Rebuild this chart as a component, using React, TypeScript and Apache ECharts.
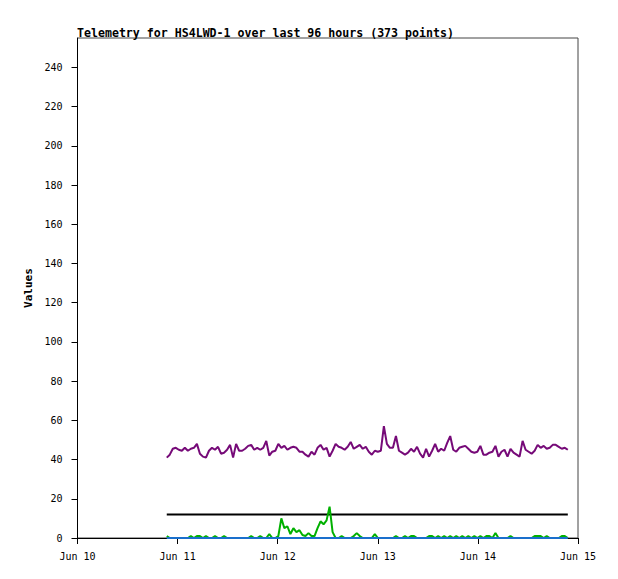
// Telemetria de uma estacao APRS nas ultimas 96 horas: quatro canais sobre um eixo de
// horas contadas a partir de 10 de junho 00:00.
import { useEffect, useRef } from 'react'
import * as echarts from 'echarts'

const DAY_LABELS = ['Jun 10', 'Jun 11', 'Jun 12', 'Jun 13', 'Jun 14', 'Jun 15']
const Y_TICKS = [0, 20, 40, 60, 80, 100, 120, 140, 160, 180, 200, 220, 240]

// primeira leitura (horas desde Jun 10 00:00) e intervalo entre leituras amostradas
const START_HOUR = 21.4
const STEP_HOURS = 0.723

const PURPLE = [
  41, 42.5, 45.5, 46, 45, 44.5, 46, 44.5, 45.5, 46, 48, 43, 41.5, 41, 44.5, 46, 45, 46.5, 43, 43.5,
  45, 47.5, 41, 48, 44.5, 44.5, 45.5, 47, 47.5, 45, 46, 45, 46, 49.5, 42, 44, 44.5, 48, 46, 47,
  45, 46, 46.5, 46, 44,
  44, 42.5, 41.5, 44, 42.5, 46, 47.5, 45, 46, 41.5, 44.5, 48, 46.5, 46, 45, 46.5, 49, 45.5, 46.5, 47.5,
  45.5, 46.5, 44, 42.5, 44.5, 44, 44.5, 57, 48, 46, 46, 52, 44.5, 43.5, 42.5, 43.5, 45.5, 44, 46.5, 43,
  41, 45.5, 41.5, 44.5, 48,
  44, 45.5, 44.5, 48.5, 52, 45, 44, 46, 46.5, 47, 45.5, 44, 43.5, 44, 47, 42.5, 42.5, 43.5, 44, 47,
  41.5, 44, 45, 41.5, 45.5, 43.5, 42.5, 41.5, 49.5, 45, 44, 43, 44.5, 47.5, 46, 47, 45.5, 46, 47.5, 47.5,
  46.5, 45.5, 46, 45,
]

const GREEN = [
  1, 0, 0, 0, 0, 0, 0, 0, 1, 0,
  1, 1, 0, 1, 0, 0, 1, 0, 0, 1,
  0, 0, 0, 0, 0, 0, 0, 0, 1, 0,
  0, 1, 0, 0, 2, 0, 0, 1, 10, 5,
  6, 2, 5, 3, 4, 1.5, 1, 2.5, 1, 1,
  5, 8.5, 7, 9, 16, 3, 0, 0, 1, 0,
  0, 0, 1, 2.5, 1, 0, 0, 0, 0, 2,
  0, 0, 0, 0, 0, 0, 1, 0, 0, 1,
  0, 1, 1, 0, 0, 0, 0, 1, 1, 0,
  1, 0, 1, 0, 1, 0, 1, 0, 1, 0,
  1, 0, 1, 0, 1, 0, 1, 1, 0, 2.5,
  0, 0, 0, 0, 1, 0, 0, 0, 0, 0,
  0, 0, 1, 1, 1, 0, 1, 0, 0, 0,
  0, 1, 1, 0,
]

// canais que ficaram parados o periodo inteiro
const BLACK_LEVEL = 12
const BLUE_LEVEL = 0

const HOURS = PURPLE.map((_, i) => START_HOUR + i * STEP_HOURS)

const fonteMono = '"DejaVu Sans Mono", "Liberation Mono", monospace'

export default function App() {
  const containerRef = useRef<HTMLDivElement>(null)

  useEffect(() => {
    if (!containerRef.current) return
    const chart = echarts.init(containerRef.current, undefined, { renderer: 'svg' })

    // sem clip: o canal em zero fica em cima do eixo, e cortado pela grade sumiria pela metade
    const linha = (name: string, color: string, values: number[]) => ({
      name,
      type: 'line' as const,
      data: values.map((v, i) => [HOURS[i], v]),
      symbol: 'none',
      clip: false,
      z: 5,
      lineStyle: { color, width: 2 },
      itemStyle: { color },
    })

    chart.setOption({
      animation: false,
      backgroundColor: '#fff',
      textStyle: { fontFamily: fonteMono },
      title: {
        text: 'Telemetry for HS4LWD-1 over last 96 hours (373 points)',
        left: 72,
        top: 22,
        textStyle: { fontFamily: fonteMono, fontSize: 11.6, fontWeight: 'bold', color: '#000' },
      },
      grid: {
        left: 77.5,
        right: 40,
        top: 38,
        bottom: 41,
        show: true,
        borderColor: '#444',
        borderWidth: 1,
        backgroundColor: 'transparent',
      },
      xAxis: {
        type: 'value',
        min: 0,
        max: 120,
        interval: 24,
        axisLine: { lineStyle: { color: '#000', width: 1 } },
        axisTick: { show: true, length: 6, inside: false, lineStyle: { color: '#000' } },
        splitLine: { show: false },
        axisLabel: {
          margin: 13,
          color: '#000',
          fontFamily: fonteMono,
          fontSize: 10,
          formatter: (v: number) => DAY_LABELS[Math.round(v / 24)] ?? '',
        },
      },
      yAxis: {
        type: 'value',
        min: 0,
        max: 255,
        name: 'Values',
        nameLocation: 'middle',
        nameRotate: 90,
        nameGap: 43,
        nameTextStyle: { fontFamily: fonteMono, fontSize: 11, fontWeight: 'bold', color: '#000' },
        axisLine: { show: true, lineStyle: { color: '#000', width: 1 } },
        axisTick: { show: true, length: 6, customValues: Y_TICKS, lineStyle: { color: '#000' } },
        splitLine: { show: false },
        axisLabel: {
          margin: 15,
          color: '#000',
          fontFamily: fonteMono,
          fontSize: 10,
          customValues: Y_TICKS,
        },
      },
      series: [
        linha('purple', '#760a78', PURPLE),
        linha('black', '#000000', PURPLE.map(() => BLACK_LEVEL)),
        linha('green', '#00b000', GREEN),
        linha('blue', '#1a6fcc', PURPLE.map(() => BLUE_LEVEL)),
      ],
    })

    return () => chart.dispose()
  }, [])

  return (
    <div
      ref={containerRef}
      style={{ position: 'fixed', left: 0, top: 0, width: 618, height: 579 }}
    />
  )
}
